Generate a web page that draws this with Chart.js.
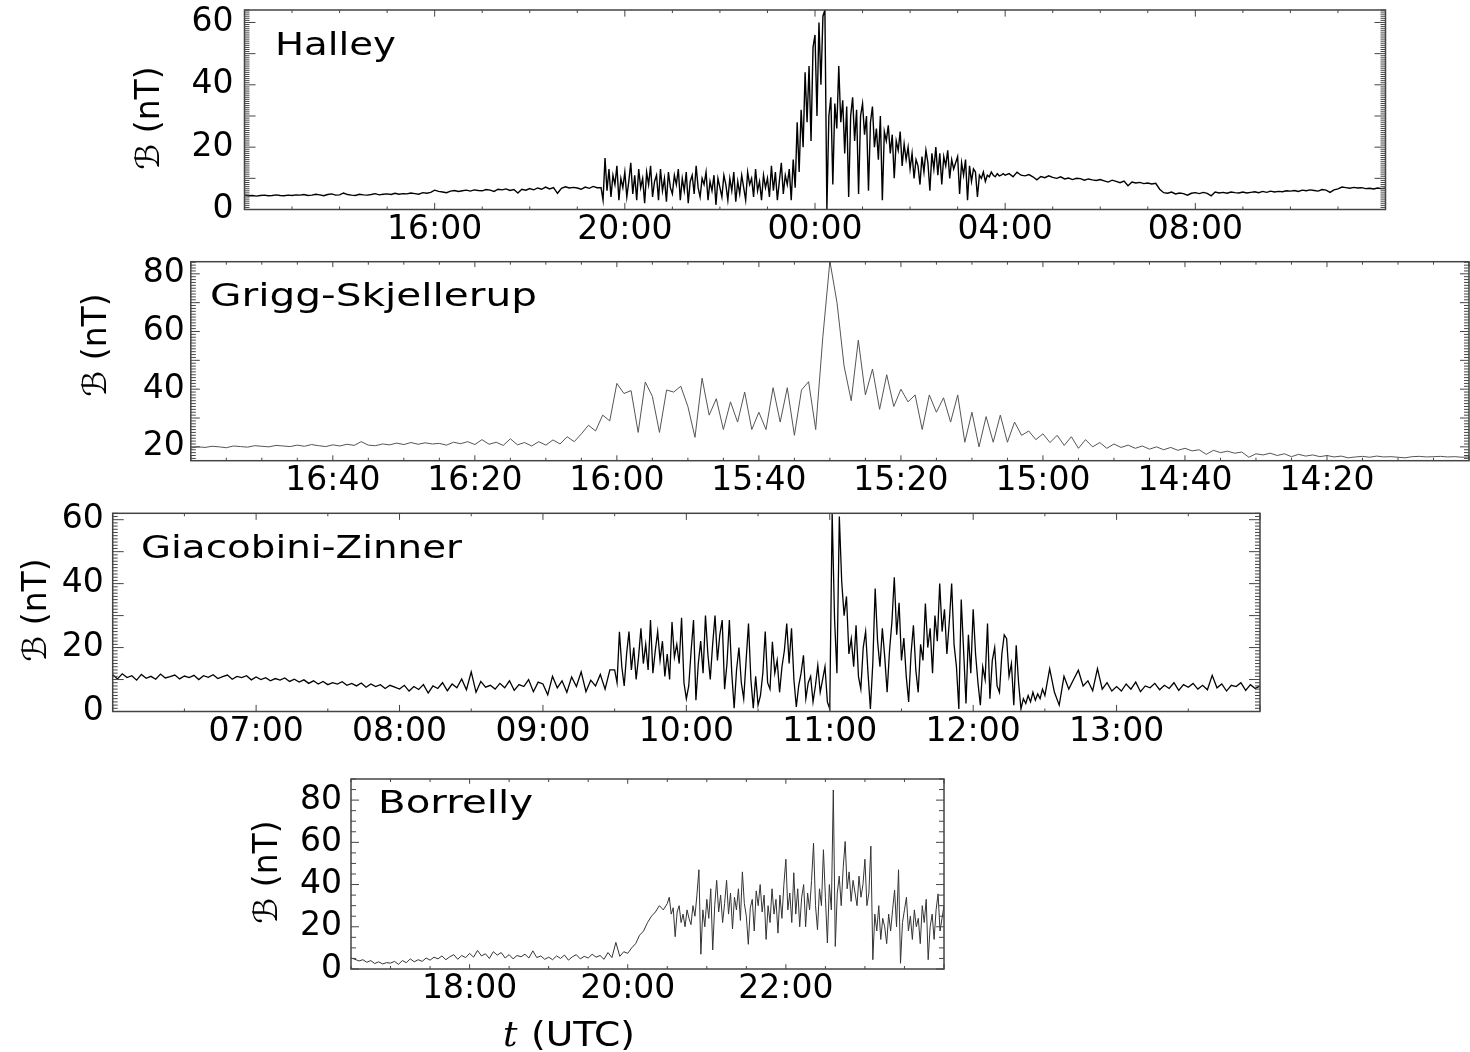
<!DOCTYPE html>
<html>
<head>
<meta charset="utf-8">
<script src="https://cdn.jsdelivr.net/npm/chart.js@4.4.1/dist/chart.umd.min.js"></script>
<style>
  body { margin: 0; background: #fff; width: 1470px; height: 1052px; position: relative; overflow: hidden; }
  canvas { position: absolute; left: 0; top: 0; }
</style>
</head>
<body>
<canvas id="halley" width="1470" height="1052"></canvas>
<canvas id="grigg" width="1470" height="1052"></canvas>
<canvas id="gz" width="1470" height="1052"></canvas>
<canvas id="borrelly" width="1470" height="1052"></canvas>
<script>
// Halley (nT). quiet part 12:00-19:25 every 5 min
const halleyPre = [
  4.6,4.4,4.5,4.3,4.5,4.6,4.4,4.5,4.7,4.5,4.4,4.6,
  4.5,4.7,4.6,4.8,4.5,4.6,4.9,4.7,4.4,4.8,5.0,4.6,
  4.7,5.3,4.8,4.6,4.5,4.9,4.7,4.6,4.8,5.1,4.7,4.9,
  5.0,4.8,5.2,4.9,5.1,5.0,5.3,5.1,4.9,5.4,5.2,5.5,
  6.2,5.8,5.6,5.4,5.9,6.1,5.8,6.0,6.2,5.9,6.3,6.1,
  6.0,6.4,6.2,5.8,6.5,6.3,6.6,6.1,6.4,5.3,6.5,6.2,
  6.7,6.3,6.9,6.5,7.2,6.6,7.0,5.2,6.8,7.3,6.9,7.1,
  6.9,6.5,7.2,6.8,7.4,7.0
];
// active part 19:30-04:00 every 2.5 min
const halleyActive = [
  7,3,16.5,6,13,4,11,8,14,3,10,7,
  12,4,9,15,5,11,3,13,7,10,2,12,8,14,4,9,11,3,13,6,10,2.5,12,7,
  5,11,8,13,3,10,6,12,2,9,11,5,14,7,4,10,8,12,3,9,6,11,1.5,10,
  7,4,11,8,3,10,6,12,2.5,9,5,11,7,3,12,8,10,4,13,6,9,3,11,7,
  10,4,14,6,12,3,9,15,5,11,8,13,3,16,7,28,12,32,20,44,28,46,22,52,
  56,30,60,40,62,64,0,30,36,8,34,26,46,28,35,18,33,4,30,36,22,32,5,30,
  34,24,30,6,28,33,20,26,16,30,3,25,22,27,18,24,10,22,19,25,14,21,16,20,
  13,18,10,16,14,8,17,12,19,15,6,18,13,20,11,18,8,17,14,19,10,16,13,15,
  17,5,15,11,16,3,14,9,13,12,4,11,10,12,9,11,10.5,12,11,10.5,11.5,10.8,11,11.5,
  11
];
// quiet part 04:05-12:00 every 5 min
const halleyPost = [
  11.5,10.5,12,11,10.8,11.2,10.5,9.5,10.6,10.2,10.8,
  10.3,10,10.5,9.8,10.1,9.6,10,9.9,9.4,9.8,9.5,9.3,
  9.6,9.2,8.8,9.4,9,8.6,9.1,7.6,8.8,8.5,8.7,8.3,
  8.5,8.2,8.4,6.5,5.4,5.2,5.6,5,5.3,5.1,4.6,5.2,
  5.4,5.1,5.5,5.2,4.4,5.6,5.3,5.5,5.2,5.6,5.4,5.3,
  5.6,5.3,5.5,5.7,5.4,5.8,5.5,5.9,5.6,5.8,5.7,6.0,
  5.9,6.1,5.8,6.2,6.0,6.3,6.1,5.9,6.4,6.2,5.5,6.3,
  6.6,7.2,7.0,6.8,7.1,6.9,7.0,6.7,6.8,6.6,6.9,6.7,
  6.8
];
const halleyTicks = [16, 20, 24, 28, 32];
const halleyYTicks = [0, 20, 40, 60];

// Grigg-Skjellerup: 17:00 -> 14:00 (time runs backwards), one value per minute
const griggB = [
  19.6,20,19.8,20.2,20,19.7,20.3,20.1,19.9,20.4,
  20.2,20,20.5,20.3,20.1,20.6,20.2,20.8,20.4,20.1,
  20.7,20.3,20.9,20.5,21.8,20.6,20.4,21,20.7,21.3,
  20.8,21.5,20.9,21.4,21,21.2,20.6,21.6,21.1,21.8,
  20.8,22.5,20.9,21.6,20.5,22.8,20.7,21.5,20.3,21.8,
  20.6,22.4,21,23.5,21.8,24.5,27.5,25.5,31,29,
  42,38.5,39.5,25,42.5,37.5,25,39.7,39,41,
  34,23.3,43.8,31,36.7,26,35.6,28.6,39,26,
  32,26,40.5,28.6,40.5,24,39.7,42.6,26,58,
  84.4,70,48,36,57,38,47,33,45,34,
  40,35.6,38,26,38,32,37,28.6,38,21.6,
  32,20,30.5,21.6,31,21.6,28.6,24,25.5,22.5,
  24.5,21.5,24,20.5,23.5,19.5,22.5,20,21.5,19.5,
  21,19.8,20.6,19.5,20.3,19.2,20,19,19.8,18.8,
  19.5,18.6,19,17.4,18.8,18,18.5,17.8,18.2,16.4,
  17.6,17.2,17.8,17,17.6,16.6,17.4,16.8,17.2,16.6,
  17,16.5,16.8,16.2,16.5,16.7,16.4,16.8,16.5,16.6,
  16.4,16.2,16.6,16.7,16.5,16.6,16.7,16.5,16.6,16.4,16.5
];
const griggTicks = ['16:40', '16:20', '16:00', '15:40', '15:20', '15:00', '14:40', '14:20'];
const griggYTicks = [20, 40, 60, 80];

// Giacobini-Zinner: 06:00-09:28 every 2 min
const gzPre = [
  11.5,10.2,11.8,10.6,11.2,9.8,11.6,10.4,11,10.1,11.7,10.5,10.9,11.4,10.2,11.1,10.6,11.3,10,11.2,10.7,11.5,10.3,10.9,11.4,10.1,11,10.6,11.2,9.9,
  10.8,10,10.6,9.6,10.3,9.8,10.5,9.4,10.1,9.2,9.9,8.8,9.6,8.6,9.4,8.4,9,8.6,9.3,8.2,8.8,8,8.9,7.6,8.6,7.8,8.4,7.2,8.2,7.6,
  7,8.2,6.4,7.8,6.9,8.4,5.8,8,7.2,9,6.5,8.6,7.4,10.2,6.8,12.4,6,9.4,7.6,8.2,7,8.8,7.4,9.6,6.6,8.4,7.8,10,6.2,9.2,
  8.6,5.2,11,7.4,9.6,6,10.8,7.8,12.4,6.2,9.8,8,11.6,7,13
];
// 09:30-12:30 every minute
const gzActive = [
  13,9,24.9,14,8,18,25,13,20,10,17,26,15,21,13,28.6,12,19,25,16,22,11,18,10,28,17,21,15,29.3,9,
  4,8,19,28.6,3.5,15,22,12,30,18,10,21,30,16,24,28.6,7,15,28.6,12,1,13,20,9,4,16,27.5,10,1,11,
  2,5,12,25,9,7,21.8,12,16,6,14,19,27.5,15,26,10,1.4,8,12,17.6,4,9,11,3,8,14.4,6,10,14,3,
  0.8,62,29,12,61,40.6,30,36,18,22.8,14,27,11,7,20,25,12,0.8,15,38.5,22,14,26,17,6,19,28,42,24,34,
  16,23,11,3,18,27,13,6,21,16,33.8,20,26,12,30,22,40,25,32,18,28,40,21,14,0.8,35,19,2.5,24,12,
  32,18,9,2,14,10,27.5,4,16,20,8,6,18,24,22.8,11,15,2,20.7,9,0.8,4,2.5,5,3,6,3.5,5.5,4,7,
  5
];
// 12:32-14:00 every 2 min
const gzPost = [
  13.4,6,2,11,7,10,12.9,8,9.6,6.5,13.4,7,9,6.4,
  7.8,6.4,8.6,7,9.2,6.2,8,7.4,8.8,6.8,8.2,7.2,9,6.6,8.4,7.6,8.8,7,8.2,6.8,11.3,7.4,8.6,6.4,8.2,7.8,9,6.6,8.4,7.2,
  8
];
const gzTicks = [7, 8, 9, 10, 11, 12, 13];
const gzYTicks = [0, 20, 40, 60];

// Borrelly: 16:30-20:27 every 3 min
const borrellyPre = [
  5.2,4.6,3.8,4.4,3.2,4,2.6,3.4,2.4,3,
  2.8,3.6,2.2,4,3,4.8,3.4,4.4,3.6,5.2,4.2,5.6,4.8,6.2,4.4,5.8,6.8,4.6,6.4,5.4,
  7.4,5.6,8.8,6.2,7.2,5,8.2,6.6,7.8,5.2,6.8,4.8,6.4,5.8,7,5.2,8.6,5.4,6.2,4.6,
  5.6,4.4,6.2,5,6.6,4.2,5.8,6.8,4.8,6,5.2,7,5.6,6.4,4.6,7.8,5.4,12.6,6,8.2,
  7.4,10,12,16,18,22,25,27,30,28
];
// 20:30-24:00 every 1.5 min
const borrellyActive = [
  31,34,26,29,15.3,27,30,22,26,20,28,24,21,30,25,35,47,7,28,20,
  33,24,38,9,30,42,27,35,22,31,42,26,36,19,34,28,38,23,46,31,
  25,11.7,29,33,18,37,30,40,27,35,14,30,22,38,26,33,17,35,24,40,
  52,28,36,22,45.6,26,38,20,34,40,20,36,28,42,59.6,30,18.6,38,30,56.5,
  34,12.3,40,28,84.8,10.7,36,44,30,48,60.4,38,46,32,42,36,30,44,34,40,
  52,30,36,58.2,4.4,26,18,30,14,24,20,12,26,18,28,37.4,20,47,2.7,22,
  28,34,18,25,14,28,20,24,12,30,22,33,4.4,20,26,14,28,35.6,18,24,
  30
];
const borrellyTicks = [18, 20, 22];
const borrellyYTicks = [0, 20, 40, 60, 80];

Chart.defaults.font.family = '"DejaVu Sans", sans-serif';
Chart.defaults.font.size = 33;
Chart.defaults.color = '#000';

function hhmm(h) {
  const t = Math.round(h * 60);
  const hh = Math.floor(t / 60) % 24, mm = t % 60;
  return String(hh).padStart(2, '0') + ':' + String(mm).padStart(2, '0');
}
function toHours(s) {
  const [h, m] = s.split(':').map(Number);
  return h + m / 60;
}
function series(start, step, values) {
  return values.map((v, i) => ({ x: start + i * step, y: v }));
}

// inward ticks on all four sides + the box
const frame = {
  id: 'frame',
  afterDatasetsDraw(chart, args, o) {
    const { ctx, chartArea: a, scales: { x, y } } = chart;
    ctx.save();
    ctx.strokeStyle = '#444';
    ctx.lineWidth = 1;
    ctx.beginPath();
    const each = (scale, step, major, fn) => {
      const k0 = Math.ceil(scale.min / step - 1e-6), k1 = Math.floor(scale.max / step + 1e-6);
      for (let k = k0; k <= k1; k++) {
        const v = k * step;
        const isMajor = Math.abs(v / major - Math.round(v / major)) < 1e-6;
        fn(scale.getPixelForValue(v), isMajor ? o.majorLen : o.minorLen);
      }
    };
    each(x, o.xMinor, o.xMajor, (p, len) => {
      ctx.moveTo(p, a.bottom); ctx.lineTo(p, a.bottom - len * 0.6);
      ctx.moveTo(p, a.top); ctx.lineTo(p, a.top + len * 0.6);
    });
    each(y, o.yMinor, o.yMajor, (p, len) => {
      ctx.moveTo(a.left, p); ctx.lineTo(a.left + len, p);
      ctx.moveTo(a.right, p); ctx.lineTo(a.right - len, p);
    });
    ctx.stroke();
    ctx.lineWidth = 1.5;
    ctx.strokeRect(a.left, a.top, a.right - a.left, a.bottom - a.top);
    ctx.restore();
  }
};

const labels = {
  id: 'labels',
  afterDraw(chart, args, o) {
    const ctx = chart.ctx;
    ctx.save();
    ctx.fillStyle = '#000';
    ctx.font = '32px "DejaVu Sans"';
    const w = ctx.measureText(o.name).width;
    ctx.translate(o.namePos[0], o.namePos[1]);
    ctx.scale(o.namePos[2] / w, 1);
    ctx.fillText(o.name, 0, 0);
    ctx.restore();

    ctx.save();
    ctx.fillStyle = '#000';
    ctx.translate(o.yTitlePos[0], o.yTitlePos[1]);
    ctx.rotate(-Math.PI / 2);
    ctx.textAlign = 'center';
    ctx.textBaseline = 'middle';
    ctx.font = '33px "DejaVu Sans"';
    ctx.fillText('\u212C (nT)', 0, 0);
    ctx.restore();

    if (o.xTitle) {
      ctx.save();
      ctx.fillStyle = '#000';
      ctx.font = 'italic 36px "DejaVu Serif"';
      ctx.fillText('t', 503, 1046);
      ctx.font = '33px "DejaVu Sans"';
      const w2 = ctx.measureText('(UTC)').width;
      ctx.translate(531, 1046);
      ctx.scale(104 / w2, 1);
      ctx.fillText('(UTC)', 0, 0);
      ctx.restore();
    }
  }
};

function panel(id, p) {
  const [L, R, T, B] = p.box;
  const yW = 80, xH = 40;
  return new Chart(document.getElementById(id), {
    type: 'line',
    data: {
      datasets: [{
        data: p.points,
        borderColor: p.color,
        borderWidth: p.lw,
        pointRadius: 0,
        tension: 0
      }]
    },
    options: {
      responsive: false,
      animation: false,
      events: [],
      layout: { padding: { left: L - yW, right: 1470 - R, top: T, bottom: 1052 - B - xH } },
      plugins: {
        legend: { display: false },
        tooltip: { enabled: false },
        frame: p.frame,
        labels: p.labels
      },
      scales: {
        x: {
          type: 'linear',
          min: p.xMin,
          max: p.xMax,
          reverse: !!p.reverse,
          grid: { display: false, drawTicks: false },
          border: { display: false },
          afterBuildTicks: s => { s.ticks = p.xTicks.map(v => ({ value: v })); },
          afterFit: s => { s.height = xH; s.paddingLeft = 0; s.paddingRight = 0; },
          ticks: { padding: 1, maxRotation: 0, autoSkip: false, callback: v => hhmm(v) }
        },
        y: {
          min: p.yMin,
          max: p.yMax,
          grid: { display: false, drawTicks: false },
          border: { display: false },
          afterBuildTicks: s => { s.ticks = p.yTicks.map(v => ({ value: v })); },
          afterFit: s => { s.width = yW; s.paddingTop = 0; s.paddingBottom = 0; },
          ticks: { padding: p.yPad, autoSkip: false }
        }
      }
    },
    plugins: [frame, labels]
  });
}

panel('halley', {
  box: [244.5, 1385.5, 10, 209.5],
  points: [
    ...series(12, 5 / 60, halleyPre),
    ...series(19.5, 2.5 / 60, halleyActive),
    ...series(28 + 5 / 60, 5 / 60, halleyPost)
  ],
  color: '#000', lw: 1.4,
  xMin: 12, xMax: 36, xTicks: halleyTicks,
  yMin: 0, yMax: 64, yTicks: halleyYTicks, yPad: 11,
  frame: { xMinor: 1, xMajor: 4, yMinor: 10 / 15, yMajor: 10, minorLen: 5, majorLen: 11 },
  labels: { name: 'Halley', namePos: [275, 55, 121], yTitlePos: [150, 118] }
});

panel('grigg', {
  box: [190.8, 1469, 261.7, 460.7],
  points: series(17, -1 / 60, griggB),
  color: '#555', lw: 1,
  xMin: 14, xMax: 17, reverse: true, xTicks: griggTicks.map(toHours),
  yMin: 15.2, yMax: 84.2, yTicks: griggYTicks, yPad: 6,
  frame: { xMinor: 1 / 12, xMajor: 1 / 3, yMinor: 1, yMajor: 10, minorLen: 5, majorLen: 9 },
  labels: { name: 'Grigg-Skjellerup', namePos: [210, 306, 327], yTitlePos: [97, 345] }
});

panel('gz', {
  box: [112.7, 1260, 513.3, 711.5],
  points: [
    ...series(6, 2 / 60, gzPre),
    ...series(9.5, 1 / 60, gzActive),
    ...series(12.5 + 2 / 60, 2 / 60, gzPost)
  ],
  color: '#000', lw: 1.3,
  xMin: 6, xMax: 14, xTicks: gzTicks,
  yMin: 0, yMax: 62, yTicks: gzYTicks, yPad: 9,
  frame: { xMinor: 0.5, xMajor: 1, yMinor: 1, yMajor: 10, minorLen: 5, majorLen: 11 },
  labels: { name: 'Giacobini-Zinner', namePos: [141, 558, 321], yTitlePos: [37, 610] }
});

panel('borrelly', {
  box: [351, 944, 779, 969],
  points: [
    ...series(16.5, 3 / 60, borrellyPre),
    ...series(20.5, 1.5 / 60, borrellyActive)
  ],
  color: '#333', lw: 1,
  xMin: 16.5, xMax: 24, xTicks: borrellyTicks,
  yMin: 0, yMax: 90, yTicks: borrellyYTicks, yPad: 9,
  frame: { xMinor: 0.5, xMajor: 2, yMinor: 5, yMajor: 20, minorLen: 5, majorLen: 8 },
  labels: { name: 'Borrelly', namePos: [378, 813, 155], yTitlePos: [268, 872], xTitle: true }
});
</script>
</body>
</html>
